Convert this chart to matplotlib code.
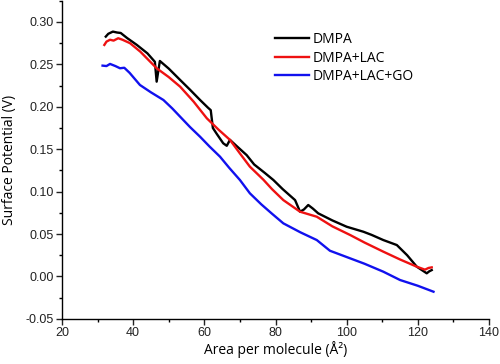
import matplotlib.pyplot as plt
from matplotlib.ticker import MultipleLocator

# surface potential vs area per molecule
x_dmpa = [32.3, 33.0, 34.3, 35.5, 36.5, 38.3, 41.0, 44.0, 46.1, 46.6, 47.5, 50.0,
          53.2, 56.0, 58.8, 61.0, 61.8, 62.4, 63.5, 65.3, 66.3, 67.2, 69.0, 71.9,
          74.0, 77.0, 79.4, 82.0, 85.5, 86.9, 88.0, 89.2, 90.5, 92.0, 96.0, 100.0,
          104.7, 107.0, 110.3, 114.1, 117.0, 119.7, 122.5, 123.2, 123.9]
y_dmpa = [0.2827, 0.2860, 0.2886, 0.2875, 0.2870, 0.2810, 0.2730, 0.2630, 0.2530,
          0.2296, 0.2540, 0.2450, 0.2316, 0.2200, 0.2080, 0.1990, 0.1960, 0.1750,
          0.1680, 0.1570, 0.1540, 0.1610, 0.1540, 0.1430, 0.1320, 0.1220, 0.1137,
          0.1030, 0.0900, 0.0763, 0.0790, 0.0842, 0.0800, 0.0744, 0.0660, 0.0586,
          0.0527, 0.0490, 0.0429, 0.0370, 0.0250, 0.0115, 0.0037, 0.0060, 0.0075]

x_lac = [31.9, 32.5, 33.5, 34.5, 35.8, 37.0, 39.1, 42.0, 46.6, 50.0, 53.2, 57.0,
         60.7, 64.0, 67.2, 70.0, 72.8, 76.6, 79.0, 82.2, 86.9, 91.6, 96.0, 101.0,
         105.0, 110.3, 115.0, 119.7, 122.0, 123.0, 123.9]
y_lac = [0.2729, 0.2768, 0.2790, 0.2780, 0.2808, 0.2790, 0.2750, 0.2650, 0.2454,
         0.2350, 0.2237, 0.2060, 0.1864, 0.1730, 0.1610, 0.1450, 0.1294, 0.1140,
         0.1030, 0.0900, 0.0763, 0.0704, 0.0590, 0.0488, 0.0400, 0.0292, 0.0200,
         0.0115, 0.0080, 0.0100, 0.0107]

x_go = [31.4, 32.5, 33.5, 35.0, 36.3, 37.5, 39.0, 41.9, 45.0, 48.5, 51.0, 53.2,
        56.0, 58.8, 61.5, 64.4, 67.0, 70.0, 72.8, 76.0, 79.0, 82.2, 87.0, 91.6,
        95.3, 101.0, 105.0, 110.3, 115.0, 120.0, 124.4]
y_go = [0.2485, 0.2480, 0.2505, 0.2480, 0.2454, 0.2460, 0.2400, 0.2257, 0.2170,
        0.2080, 0.1980, 0.1883, 0.1760, 0.1647, 0.1530, 0.1412, 0.1280, 0.1137,
        0.0980, 0.0850, 0.0740, 0.0626, 0.0520, 0.0429, 0.0303, 0.0213, 0.0150,
        0.0056, -0.0042, -0.0110, -0.0180]

labels = ['DMPA', 'DMPA+LAC', 'DMPA+LAC+GO']

fig = plt.figure(figsize=(5, 3.64), dpi=100)
ax = fig.add_axes([0.124, 0.124, 0.854, 0.874])

ax.plot(x_dmpa, y_dmpa, color='black', lw=1.7, label=labels[0])
ax.plot(x_lac, y_lac, color='#ee1111', lw=1.7, label=labels[1])
ax.plot(x_go, y_go, color='#1111ee', lw=1.7, label=labels[2])

ax.set_xlim(20, 140)
ax.set_ylim(-0.05, 0.325)
ax.set_xticks([20, 40, 60, 80, 100, 120, 140])
ax.set_yticks([-0.05, 0, 0.05, 0.10, 0.15, 0.20, 0.25, 0.30])
ax.yaxis.set_major_formatter(plt.FormatStrFormatter('%.2f'))
ax.xaxis.set_minor_locator(MultipleLocator(10))
ax.yaxis.set_minor_locator(MultipleLocator(0.025))
ax.tick_params(which='major', direction='out', length=4, width=1,
               labelsize=9, colors='#222222', pad=2)
ax.tick_params(which='minor', direction='out', length=2.5, width=1)
for t in ax.get_xticklabels() + ax.get_yticklabels():
    t.set_fontfamily('Liberation Sans')

for s in ['top', 'right']:
    ax.spines[s].set_visible(False)
for s in ['left', 'bottom']:
    ax.spines[s].set_linewidth(1)

ax.set_xlabel('Area per molecule (Å²)', fontsize=10, family='Open Sans', labelpad=1)
ax.set_ylabel('Surface Potential (V)', fontsize=10, family='Open Sans', labelpad=6)

leg = ax.legend(loc='upper left', bbox_to_anchor=(0.47, 0.94), frameon=False,
                prop={'family': 'Open Sans', 'size': 10}, handlelength=2.4,
                handletextpad=0.3, labelspacing=0.25)

fig.savefig('out.png', dpi=100)
